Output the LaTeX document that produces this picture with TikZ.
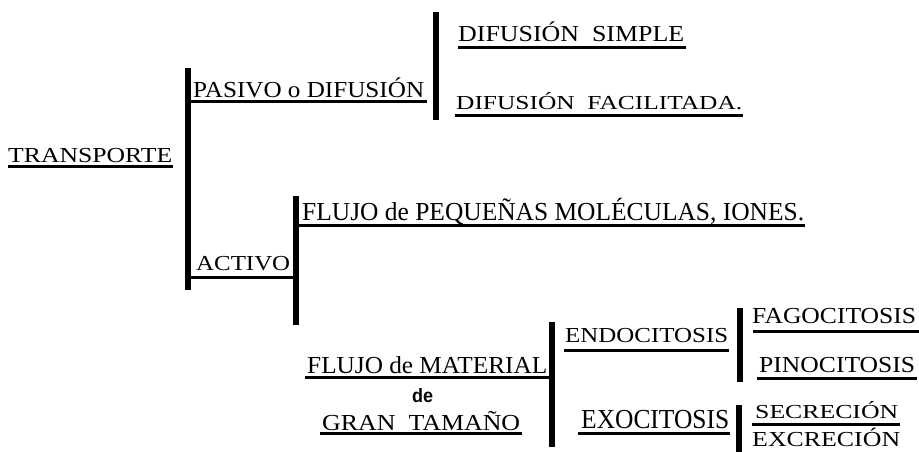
\documentclass[tikz,border=0pt]{standalone}
\usepackage{fontspec}
\setmainfont{Liberation Serif}
\newfontfamily\desans{Liberation Sans}
\usepackage{graphicx}
\newcommand\lbl[3]{\resizebox{#1pt}{#2pt}{\smash{#3}\vphantom{X}}}
\begin{document}
\begin{tikzpicture}[x=1pt,y=-1pt,
  lb/.style={inner sep=0pt, anchor=base west, font=\rmfamily\fontsize{20}{22}\selectfont},
  ul/.style={line width=3pt},
  bar/.style={line width=6.5pt}]
\useasboundingbox (0,0) rectangle (919,452);
% bars
\coordinate (b1t) at (188,68);  \coordinate (b1b) at (188,290);
\coordinate (b2t) at (436,12);  \coordinate (b2b) at (436,120);
\coordinate (b3t) at (296,196); \coordinate (b3b) at (296,325);
\coordinate (b4t) at (552,322); \coordinate (b4b) at (552,447);
\coordinate (b5t) at (740,308); \coordinate (b5b) at (740,382);
\coordinate (b6t) at (739,405); \coordinate (b6b) at (739,455);
\foreach \i in {1,...,6} {\draw[bar] (b\i t) -- (b\i b);}
% labels
\node[lb] (transporte) at (8,162) {\lbl{164}{14}{TRANSPORTE}};
\node[lb] (pasivo) at (193,98) {\lbl{231}{15}{PASIVO o DIFUSIÓN}};
\node[lb] (dsimple) at (458,42) {\lbl{226}{15}{DIFUSIÓN\ \ SIMPLE}};
\node[lb] (dfacil) at (456,110) {\lbl{286}{13}{DIFUSIÓN\ \ FACILITADA.}};
\node[lb] (activo) at (196,270) {\lbl{94}{14}{ACTIVO}};
\node[lb] (flujop) at (302,220) {\lbl{502}{17}{FLUJO de PEQUEÑAS MOLÉCULAS, IONES.}};
\node[lb] (flujom) at (307,373) {\lbl{240}{16}{FLUJO de MATERIAL}};
\node[inner sep=0pt, anchor=base west] (de) at (412,402) {\resizebox{21pt}{14pt}{\desans\bfseries de}};
\node[lb] (gran) at (322,430) {\lbl{198}{15}{GRAN\ \ TAMAÑO}};
\node[lb] (endo) at (565,342) {\lbl{163}{14}{ENDOCITOSIS}};
\node[lb] (fago) at (752,323) {\lbl{164}{15}{FAGOCITOSIS}};
\node[lb] (pino) at (759,372) {\lbl{156}{15}{PINOCITOSIS}};
\node[lb] (exo) at (581,428) {\lbl{148}{18}{EXOCITOSIS}};
\node[lb] (secre) at (755,418) {\lbl{143}{13}{SECRECIÓN}};
\node[lb] (excre) at (752,446) {\lbl{148}{14}{EXCRECIÓN}};
% underlines
\draw[ul] (8,166) -- (173,166);
\draw[ul] (b1t |- 0,102) -- (427,102);
\draw[ul] (458,48) -- (686,48);
\draw[ul] (455,115) -- (743,115);
\draw[ul] (b1t |- 0,277) -- (b3t |- 0,277);
\draw[ul] (b3t |- 0,225) -- (805,225);
\draw[ul] (305,377) -- (b4t |- 0,377);
\draw[ul] (320,433) -- (522,433);
\draw[ul] (564,350) -- (729,350);
\draw[ul] (753,331) -- (919,331);
\draw[ul] (757,378) -- (917,378);
\draw[ul] (578,433) -- (730,433);
\draw[ul] (752,424) -- (900,424);
\end{tikzpicture}
\end{document}
